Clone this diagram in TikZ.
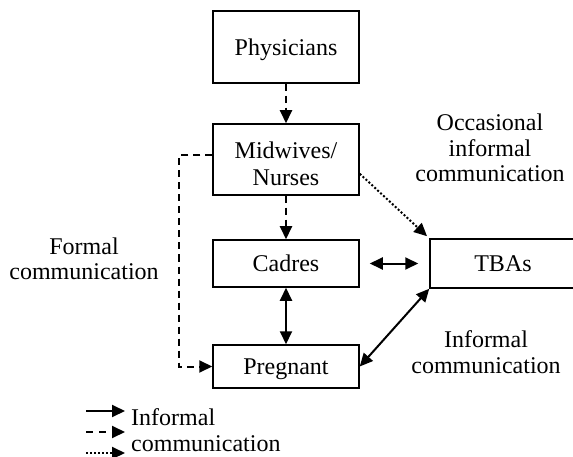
\documentclass[tikz,border=0pt]{standalone}
\usepackage{fontspec}
\setmainfont{Liberation Serif}
\usetikzlibrary{arrows.meta,calc}
\begin{document}
\begin{tikzpicture}[x=1pt,y=-1pt,
  box/.style={draw,line width=1.5pt,rectangle,minimum width=146pt,inner sep=0pt,align=center,text depth=0pt,font=\fontsize{24}{28}\selectfont},
  lbl/.style={align=center,inner sep=0pt,font=\fontsize{24}{25.5}\selectfont},
  conn/.style={line width=2pt,-{Triangle[length=13pt,width=12pt]}},
  biconn/.style={line width=2pt,{Triangle[length=13pt,width=12pt]}-{Triangle[length=13pt,width=12pt]}},
  dsh/.style={dash pattern=on 7pt off 5pt},
  dts/.style={dash pattern=on 2pt off 2pt}]
\useasboundingbox (0,0) rectangle (573,457);
% boxes
\node[box,minimum height=72pt] (phys) at (286,47) {Physicians};
\node[box,minimum height=71pt,text height=53pt] (mid) at (286,159.5) {Midwives/\\Nurses};
\node[box,minimum height=47pt] (cad) at (286,263.5) {Cadres};
\node[box,minimum height=49pt] (tba) at (503,263.5) {TBAs};
\node[box,minimum height=43pt] (preg) at (286,366.5) {Pregnant};
% labels
\node[lbl] (occ) at (490,148) {Occasional\\informal\\communication};
\node[lbl] (formal) at (84,259) {Formal\\communication};
\node[lbl] (inf) at (486,352) {Informal\\communication};
% connectors
\draw[conn,dsh] (phys.south) -- (mid.north);
\draw[conn,dsh] (mid.south) -- (cad.north);
\draw[biconn] (cad.south) -- (preg.north);
\draw[biconn,shorten <=10pt,shorten >=11pt] (cad.east) -- (tba.west);
\draw[biconn] (preg.east) -- (tba.south west);
\coordinate (dotstart) at ($(mid.south east)+(0,-22)$);
\draw[conn,dts,shorten >=3pt] (dotstart) -- (tba.north west);
\coordinate (fstart) at ($(mid.west)+(0,-4)$);
\draw[conn,dsh] (fstart) -- ++(-33,0) |- (preg.west);
% legend
\coordinate (l1a) at (86,411); \coordinate (l1b) at (125,411);
\coordinate (l2a) at (86,432); \coordinate (l2b) at (125,432);
\coordinate (l3a) at (86,453); \coordinate (l3b) at (125,453);
\draw[conn] (l1a) -- (l1b);
\draw[conn,dash pattern=on 7pt off 6pt] (l2a) -- (l2b);
\draw[conn,dts] (l3a) -- (l3b);
\node[align=left,anchor=west,inner sep=0pt,font=\fontsize{24}{26}\selectfont] (leg) at (131,430) {Informal\\communication};
\end{tikzpicture}
\end{document}
